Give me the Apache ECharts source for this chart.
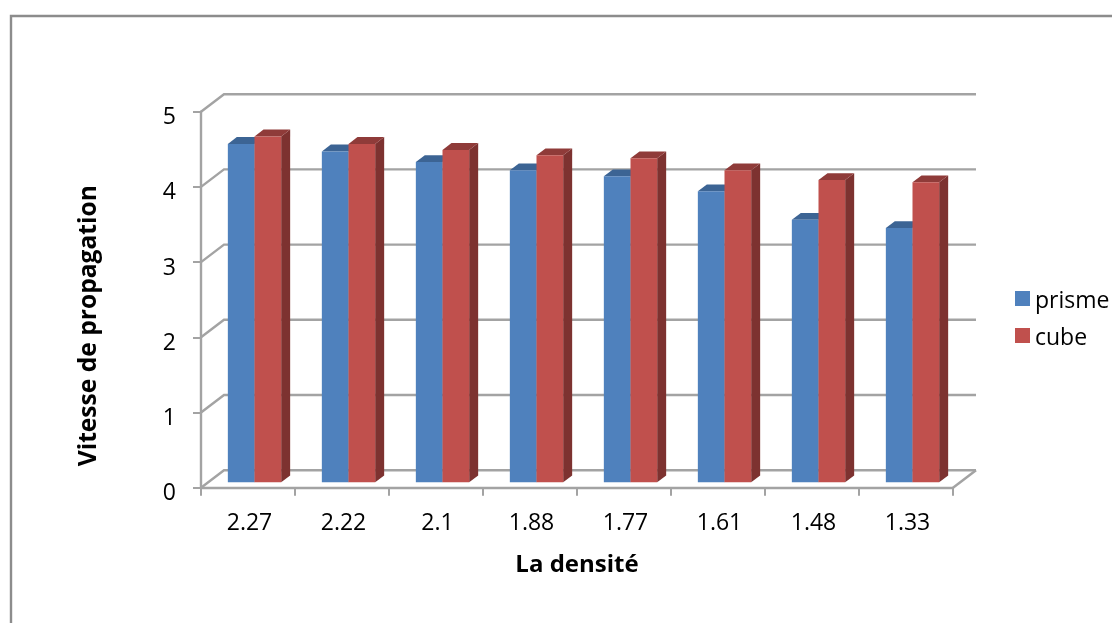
<!DOCTYPE html>
<html>
<head>
<meta charset="utf-8">
<style>html,body{margin:0;padding:0;background:#fff}#chart{width:1112px;height:623px}</style>
<script src="https://cdn.jsdelivr.net/npm/echarts@6/dist/echarts.min.js"></script>
</head>
<body>
<div id="chart"></div>
<script>
// Propagation speed against density, drawn as a pseudo-3D clustered column chart.
var densities = ['2.27', '2.22', '2.1', '1.88', '1.77', '1.61', '1.48', '1.33'];
var prisme = [4.5, 4.4, 4.26, 4.15, 4.07, 3.87, 3.49, 3.38];
var cube = [4.6, 4.5, 4.42, 4.35, 4.31, 4.15, 4.02, 3.99];
var yTicks = [0, 1, 2, 3, 4, 5];

// Oblique projection used for the box: offsets in pixels from the front plane.
var WALL = { dx: 23, dy: -17.5 };     // back wall
var BAR_FRONT = { dx: 6.5, dy: -5.4 }; // front face of the columns
var BAR_DEPTH = { dx: 9, dy: -6.8 };   // depth of a column
var BAR_SHARE = 0.2836;                // column width as a share of the band

var GRID_COLOR = '#a3a3a3';
var FONT = '"Open Sans", Lato, sans-serif';

function columnRenderer(side, front, top, flank) {
  return function (params, api) {
    var i = api.value(0), v = api.value(1);
    var band = api.size([1, 0])[0];
    var w = band * BAR_SHARE;
    var topPt = api.coord([i, v]);
    var basePt = api.coord([i, 0]);
    var x0 = topPt[0] + BAR_FRONT.dx + (side < 0 ? -w : 0);
    var x1 = x0 + w;
    var yT = topPt[1] + BAR_FRONT.dy;
    var yB = basePt[1] + BAR_FRONT.dy;
    var ddx = BAR_DEPTH.dx, ddy = BAR_DEPTH.dy;
    return {
      type: 'group',
      children: [
        { type: 'polygon', shape: { points: [[x1, yT], [x1 + ddx, yT + ddy], [x1 + ddx, yB + ddy], [x1, yB]] }, style: { fill: flank } },
        { type: 'polygon', shape: { points: [[x0, yT], [x0 + ddx, yT + ddy], [x1 + ddx, yT + ddy], [x1, yT]] }, style: { fill: top } },
        { type: 'rect', shape: { x: x0, y: yT, width: w, height: yB - yT }, style: { fill: front } }
      ]
    };
  };
}

// Back wall and side wall lines for each value tick, plus the floor's right edge.
function wallRenderer(params, api) {
  var v = api.value(0);
  var left = api.coord([0, v]);
  var right = api.coord([densities.length - 1, v]);
  var band = api.size([1, 0])[0];
  var xL = left[0] - band / 2, xR = right[0] + band / 2, y = left[1];
  var lineStyle = { stroke: GRID_COLOR, lineWidth: 2.4, fill: null };
  var children = [
    { type: 'polyline', shape: { points: [[xL, y], [xL + WALL.dx, y + WALL.dy], [xR + WALL.dx, y + WALL.dy]] }, style: lineStyle }
  ];
  if (v === 0) {
    children.push({ type: 'line', shape: { x1: xR, y1: y, x2: xR + WALL.dx, y2: y + WALL.dy }, style: lineStyle });
  }
  return { type: 'group', children: children };
}

var chart = echarts.init(document.getElementById('chart'), null, { renderer: 'canvas' });
chart.setOption({
  animation: false,
  backgroundColor: '#ffffff',
  textStyle: { fontFamily: FONT },
  grid: { left: 201, right: 159, top: 111.7, bottom: 135.3, containLabel: false },
  legend: {
    left: 1010, top: 285,
    orient: 'vertical',
    icon: 'rect', itemWidth: 15, itemHeight: 15, itemGap: 14,
    data: ['prisme', 'cube'],
    formatter: '{t|{name}}',
    textStyle: {
      fontFamily: FONT, fontSize: 23, color: '#000',
      rich: { t: { fontFamily: FONT, fontSize: 23, color: '#000', padding: [6, 0, 0, 0] } }
    }
  },
  xAxis: {
    type: 'category',
    data: densities,
    name: 'La densité',
    nameLocation: 'middle',
    nameGap: 65,
    nameTextStyle: { fontFamily: FONT, fontSize: 24, fontWeight: 'bold', color: '#000' },
    axisLine: { lineStyle: { color: GRID_COLOR, width: 2.4 } },
    axisTick: { show: true, length: 8, alignWithLabel: false, lineStyle: { color: GRID_COLOR, width: 2 } },
    axisLabel: { fontFamily: FONT, fontSize: 23, color: '#000', margin: 24, padding: [0, 0, 0, 3] },
    splitLine: { show: false }
  },
  yAxis: {
    type: 'value',
    min: 0, max: 5, interval: 1,
    name: 'Vitesse de propagation',
    nameLocation: 'middle',
    nameGap: 100,
    nameRotate: 90,
    nameTextStyle: { fontFamily: FONT, fontSize: 24.6, fontWeight: 'bold', color: '#000', padding: [0, 52, 0, 0] },
    axisLine: { show: true, lineStyle: { color: GRID_COLOR, width: 2.4 } },
    axisTick: { show: true, length: 8, lineStyle: { color: GRID_COLOR, width: 2 } },
    axisLabel: { fontFamily: FONT, fontSize: 23, color: '#000', margin: 25, verticalAlign: 'top', lineHeight: 12 },
    splitLine: { show: false }
  },
  graphic: [{
    type: 'polyline',
    silent: true,
    shape: { points: [[11, 640], [11, 16], [1130, 16]] },
    style: { stroke: '#8c8c8c', lineWidth: 2.4, fill: null }
  }],
  series: [
    {
      type: 'custom', name: 'walls', silent: true, z: 1,
      coordinateSystem: 'cartesian2d',
      encode: { y: 0 },
      data: yTicks.map(function (t) { return [t]; }),
      renderItem: wallRenderer
    },
    {
      type: 'custom', name: 'prisme', z: 2,
      coordinateSystem: 'cartesian2d',
      itemStyle: { color: '#4f81bd' },
      encode: { x: 0, y: 1 },
      data: prisme.map(function (v, i) { return [i, v]; }),
      renderItem: columnRenderer(-1, '#4f81bd', '#3c6494', '#39608f')
    },
    {
      type: 'custom', name: 'cube', z: 3,
      coordinateSystem: 'cartesian2d',
      itemStyle: { color: '#c0504d' },
      encode: { x: 0, y: 1 },
      data: cube.map(function (v, i) { return [i, v]; }),
      renderItem: columnRenderer(1, '#c0504d', '#8f3b39', '#7d3230')
    }
  ]
});
</script>
</body>
</html>
